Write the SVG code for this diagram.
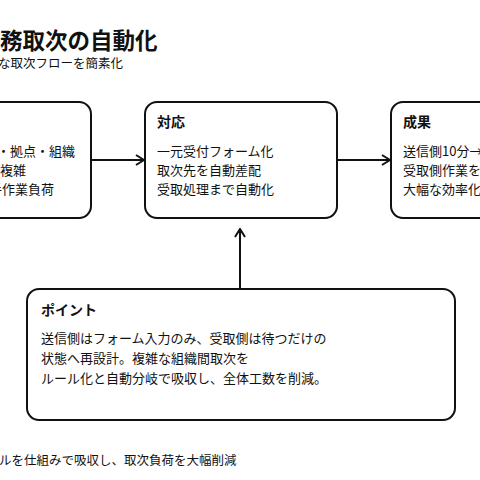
<svg xmlns="http://www.w3.org/2000/svg" width="480" height="480" viewBox="0 0 480 480">
<style>
text{font-family:"Noto Sans CJK JP","Noto Sans",sans-serif;fill:#111}
.t{font-size:22.5px;font-weight:700}
.s{font-size:12.5px}
.h{font-size:14px;font-weight:700}
.b{font-size:13px}
.box{fill:#fff;stroke:#111;stroke-width:2}
.ln{stroke:#111;stroke-width:2;fill:none}
</style>
<defs>
<marker id="ah" viewBox="0 0 10 12" refX="9" refY="6" markerWidth="10" markerHeight="12" markerUnits="userSpaceOnUse" orient="auto">
<path d="M1,1 L9,6 L1,11" fill="none" stroke="#111" stroke-width="2"/>
</marker>
</defs>
<rect width="480" height="480" fill="#fff"/>
<text class="t" x="0" y="49">務取次の自動化</text>
<text class="s" x="-2" y="68">な取次フローを簡素化</text>
<g id="connectors">
<line class="ln" x1="91" y1="160" x2="144" y2="160" marker-end="url(#ah)"/>
<line class="ln" x1="337" y1="160" x2="390" y2="160" marker-end="url(#ah)"/>
<line class="ln" x1="240" y1="289" x2="240" y2="229" marker-end="url(#ah)"/>
</g>
<g id="issue">
<rect class="box" x="-101" y="102" width="192" height="116" rx="12"/>
<text class="b" x="-3" y="156">・拠点・組織</text>
<text class="b" x="0" y="175">複雑</text>
<text class="b" x="-11" y="194">手作業負荷</text>
</g>
<g id="action">
<rect class="box" x="145" y="102" width="192" height="116" rx="12"/>
<text class="h" x="157" y="127">対応</text>
<text class="b" x="157" y="156">一元受付フォーム化</text>
<text class="b" x="157" y="175">取次先を自動差配</text>
<text class="b" x="157" y="194">受取処理まで自動化</text>
</g>
<g id="result">
<rect class="box" x="391" y="102" width="192" height="116" rx="12"/>
<text class="h" x="403" y="127">成果</text>
<text class="b" x="403" y="156">送信側10分→</text>
<text class="b" x="403" y="175">受取側作業を</text>
<text class="b" x="403" y="194">大幅な効率化</text>
</g>
<g id="point">
<rect class="box" x="27" y="289" width="428" height="131" rx="12"/>
<text class="h" x="41" y="315">ポイント</text>
<text class="b" x="41" y="343">送信側はフォーム入力のみ、受取側は待つだけの</text>
<text class="b" x="41" y="363">状態へ再設計。複雑な組織間取次を</text>
<text class="b" x="41" y="383">ルール化と自動分岐で吸収し、全体工数を削減。</text>
</g>
<text class="s" x="-1" y="465">ルを仕組みで吸収し、取次負荷を大幅削減</text>
</svg>
